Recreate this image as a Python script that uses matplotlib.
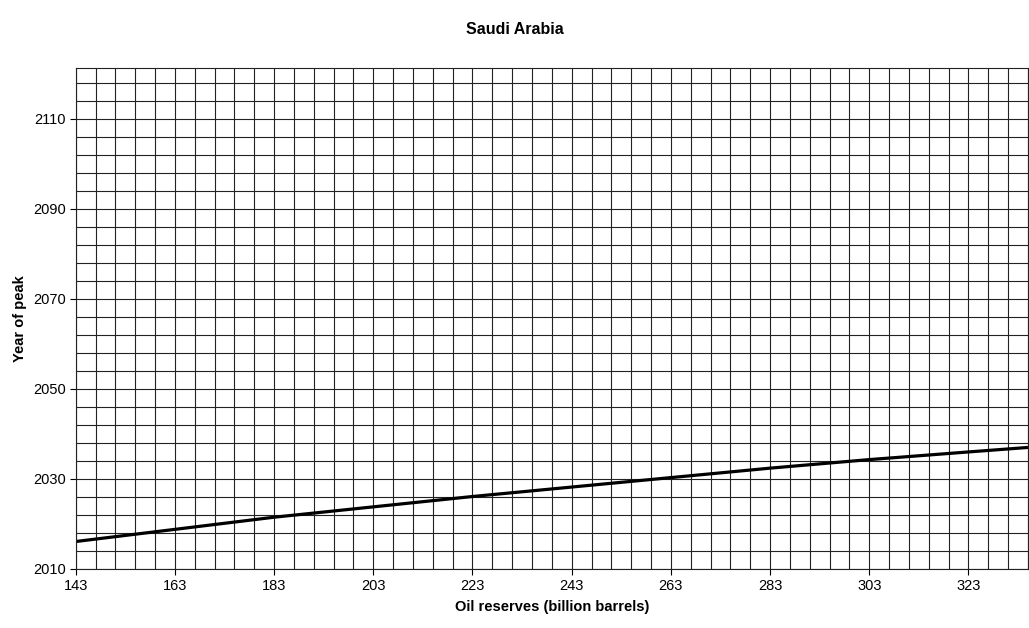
import numpy as np
import matplotlib
matplotlib.use("Agg")
import matplotlib.pyplot as plt

plt.rcParams['font.family'] = ['Liberation Sans', 'DejaVu Sans']

# oil reserves (billion barrels) vs. estimated year of peak
reserves = [143, 163, 183, 203, 223, 243, 263, 283, 303, 323, 335]
peak_year = [2016.1, 2018.8, 2021.5, 2023.8, 2026.1, 2028.2, 2030.3, 2032.4, 2034.3, 2036.0, 2037.0]

x_ticks = list(range(143, 324, 20))
y_ticks = list(range(2010, 2111, 20))
x_lim = (143, 335)
y_lim = (2010, 2121.3)

fig = plt.figure(figsize=(10.29, 6.28), dpi=100)
ax = fig.add_axes([0.0736, 0.094, 0.9254, 0.7977])

# fine grid every 4 units on both axes
ax.set_xticks(np.arange(143, 336, 4), minor=True)
ax.set_yticks(np.arange(2010, 2122, 4), minor=True)
ax.grid(which='both', color='#222222', linewidth=0.8)
ax.tick_params(which='minor', length=0)
ax.set_axisbelow(True)

ax.plot(reserves, peak_year, color='black', linewidth=2.3, solid_capstyle='butt')

ax.set_xlim(*x_lim)
ax.set_ylim(*y_lim)
ax.set_xticks(x_ticks)
ax.set_yticks(y_ticks)
ax.tick_params(which='major', direction='out', length=4, width=0.8, labelsize=10.5, pad=3)

for s in ax.spines.values():
    s.set_color('#222222')
    s.set_linewidth(0.8)

ax.set_xlabel('Oil reserves (billion barrels)', fontsize=10.5, fontweight='bold', labelpad=5)
ax.set_ylabel('Year of peak', fontsize=10.5, fontweight='bold', labelpad=4.5)
fig.text(0.5, 0.953, 'Saudi Arabia', ha='center', va='center', fontsize=11.5, fontweight='bold')

fig.savefig('out.png', dpi=100)
